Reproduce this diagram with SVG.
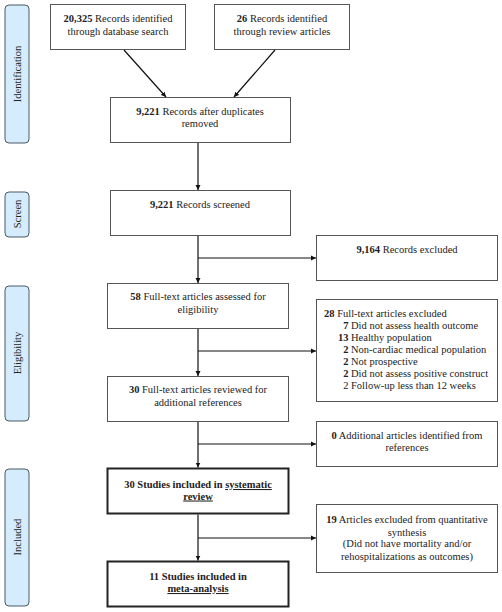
<svg xmlns="http://www.w3.org/2000/svg" width="502" height="612" viewBox="0 0 502 612">
<style>
text{font-family:"Liberation Serif","Times New Roman",serif;font-size:10.5px;fill:#222}
.c{text-anchor:middle}
.e{text-anchor:end}
.b{font-weight:bold}
.box{fill:#fff;stroke:#555;stroke-width:1}
.bbox{fill:#fff;stroke:#222;stroke-width:2}
.side{fill:#d4ecfb;stroke:#4a5a66;stroke-width:1}
.ln{stroke:#111;stroke-width:1.2;fill:none}
</style>
<defs>
<marker id="ah" markerWidth="6" markerHeight="6" refX="5" refY="3" orient="auto" markerUnits="userSpaceOnUse">
<path d="M0,0.5 L5,3 L0,5.5 Z" fill="#111"/>
</marker>
</defs>
<g id="sidebars">
<g id="side-identification"><rect class="side" x="5" y="5" width="24" height="138" rx="4"/><text class="c" transform="translate(21,74) rotate(-90)">Identification</text></g>
<g id="side-screen"><rect class="side" x="5" y="192" width="24" height="45" rx="4"/><text class="c" transform="translate(21,214) rotate(-90)">Screen</text></g>
<g id="side-eligibility"><rect class="side" x="5" y="286" width="24" height="135" rx="4"/><text class="c" transform="translate(21,353) rotate(-90)">Eligibility</text></g>
<g id="side-included"><rect class="side" x="5" y="469" width="24" height="137" rx="4"/><text class="c" transform="translate(21,537) rotate(-90)">Included</text></g>
</g>
<g id="n1"><rect class="box" x="50.5" y="4.5" width="135" height="45"/><text class="c" x="118" y="22"><tspan class="b">20,325</tspan> Records identified</text><text class="c" x="118" y="35">through database search</text></g>
<g id="n2"><rect class="box" x="214.5" y="4.5" width="135" height="45"/><text class="c" x="282" y="22"><tspan class="b">26</tspan> Records identified</text><text class="c" x="282" y="35">through review articles</text></g>
<g id="n3"><rect class="box" x="110.5" y="97.5" width="180" height="45"/><text class="c" x="200" y="114.5"><tspan class="b">9,221</tspan> Records after duplicates</text><text class="c" x="200" y="127">removed</text></g>
<g id="n4"><rect class="box" x="110.5" y="190.5" width="180" height="45"/><text class="c" x="200" y="208"><tspan class="b">9,221</tspan> Records screened</text></g>
<g id="n5"><rect class="box" x="316.5" y="235.5" width="181" height="45"/><text class="c" x="407" y="253"><tspan class="b">9,164</tspan> Records excluded</text></g>
<g id="n6"><rect class="box" x="107.5" y="283.5" width="181" height="45"/><text class="c" x="198" y="300"><tspan class="b">58</tspan> Full-text articles assessed for</text><text class="c" x="198" y="313">eligibility</text></g>
<g id="n7"><rect class="box" x="316.5" y="299.5" width="181" height="102"/>
<text x="324" y="317"><tspan class="b">28</tspan> Full-text articles excluded</text>
<text class="e b" x="348.5" y="329">7</text><text x="351" y="329">Did not assess health outcome</text>
<text class="e b" x="348.5" y="341">13</text><text x="351" y="341">Healthy population</text>
<text class="e b" x="348.5" y="353">2</text><text x="351" y="353">Non-cardiac medical population</text>
<text class="e b" x="348.5" y="365">2</text><text x="351" y="365">Not prospective</text>
<text class="e b" x="348.5" y="377">2</text><text x="351" y="377">Did not assess positive construct</text>
<text class="e" x="348.5" y="389">2</text><text x="351" y="389">Follow-up less than 12 weeks</text>
</g>
<g id="n8"><rect class="box" x="107.5" y="376.5" width="181" height="45"/><text class="c" x="198" y="393"><tspan class="b">30</tspan> Full-text articles reviewed for</text><text class="c" x="198" y="405.5">additional references</text></g>
<g id="n9"><rect class="box" x="316.5" y="421.5" width="181" height="45"/><text class="c" x="407" y="439"><tspan class="b">0</tspan> Additional articles identified from</text><text class="c" x="407" y="451">references</text></g>
<g id="n10"><rect class="bbox" x="107.5" y="468.5" width="181" height="45"/><text class="c b" x="198" y="488">30 Studies included in <tspan text-decoration="underline">systematic</tspan></text><text class="c b" x="198" y="499.5" text-decoration="underline">review</text></g>
<g id="n11"><rect class="box" x="316.5" y="504.5" width="181" height="68"/><text class="c" x="407" y="523"><tspan class="b">19</tspan> Articles excluded from quantitative</text><text class="c" x="407" y="535.5">synthesis</text><text class="c" x="407" y="547">(Did not have mortality and/or</text><text class="c" x="407" y="560">rehospitalizations as outcomes)</text></g>
<g id="n12"><rect class="bbox" x="107.5" y="561.5" width="181" height="45"/><text class="c b" x="198" y="580">11 Studies included in</text><text class="c b" x="198" y="592" text-decoration="underline">meta-analysis</text></g>
<g id="connectors">
<line class="ln" x1="124" y1="50" x2="166" y2="97" marker-end="url(#ah)"/>
<line class="ln" x1="275" y1="50" x2="234" y2="97" marker-end="url(#ah)"/>
<line class="ln" x1="198" y1="143" x2="198" y2="190" marker-end="url(#ah)"/>
<line class="ln" x1="198" y1="236" x2="198" y2="283" marker-end="url(#ah)"/>
<line class="ln" x1="198" y1="258" x2="316" y2="258" marker-end="url(#ah)"/>
<line class="ln" x1="198" y1="329" x2="198" y2="376" marker-end="url(#ah)"/>
<line class="ln" x1="198" y1="351" x2="316" y2="351" marker-end="url(#ah)"/>
<line class="ln" x1="198" y1="422" x2="198" y2="467.5" marker-end="url(#ah)"/>
<line class="ln" x1="198" y1="444" x2="316" y2="444" marker-end="url(#ah)"/>
<line class="ln" x1="198" y1="514.5" x2="198" y2="560.5" marker-end="url(#ah)"/>
<line class="ln" x1="198" y1="538" x2="316" y2="538" marker-end="url(#ah)"/>
</g>
</svg>
